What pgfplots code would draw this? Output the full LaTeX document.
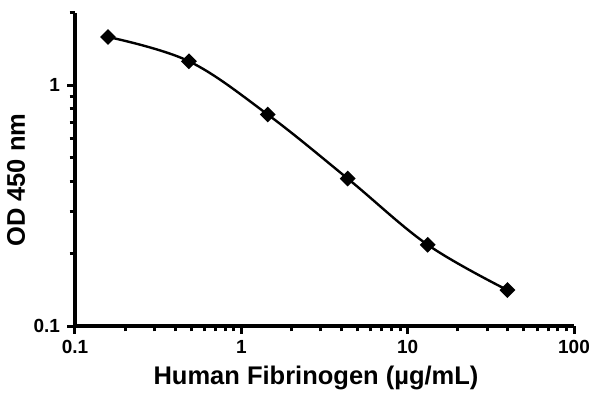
\documentclass[border=0pt]{standalone}
\usepackage{pgfplots}
\pgfplotsset{compat=1.18}
\usepackage{fontspec}
\setmainfont{Liberation Sans}
\begin{document}
\begin{tikzpicture}[x=1bp,y=1bp]
\begin{axis}[
  scale only axis,
  width=499bp, height=313bp,
  xmode=log, ymode=log,
  xmin=0.1, xmax=100, ymin=0.1, ymax=2,
  axis x line*=bottom, axis y line*=left,
  axis line style={line width=4.4bp, -},
  xtick={0.1,1,10,100}, xticklabels={0.1,1,10,100},
  ytick={0.1,1}, yticklabels={0.1,1},
  minor xtick={0.2,0.3,0.4,0.5,0.6,0.7,0.8,0.9,2,3,4,5,6,7,8,9,20,30,40,50,60,70,80,90},
  minor ytick={0.2,0.3,0.4,0.5,0.6,0.7,0.8,0.9,2},
  tick align=outside,
  major tick length=8bp, minor tick length=5.5bp,
  every tick/.style={black, line width=3bp},
  tick label style={font=\fontsize{19bp}{22bp}\selectfont\bfseries},
  xticklabel style={yshift=-3bp},
  yticklabel style={xshift=-3.5bp},
  /pgf/number format/assume math mode=true,
  xlabel={Human Fibrinogen (µg/mL)},
  ylabel={OD 450 nm},
  label style={font=\fontsize{25.5bp}{30bp}\selectfont\bfseries},
  xlabel style={at={(axis description cs:0.483,-0.166)}, anchor=center},
  ylabel style={at={(axis description cs:-0.118,0.466)}, anchor=center, rotate=0},
  clip=false,
]
\addplot[black, line width=2.4bp, smooth, tension=0.6, mark=square*, mark size=4.4bp, mark options={solid, fill=black, rotate=45}]
coordinates {
(0.158,1.59) (0.484,1.26) (1.44,0.757) (4.36,0.41) (13.2,0.2175) (39.8,0.141)
};
\path (rel axis cs:-0.1503,-0.214) rectangle (rel axis cs:1.0521,1.0415);
\end{axis}
\end{tikzpicture}
\end{document}
